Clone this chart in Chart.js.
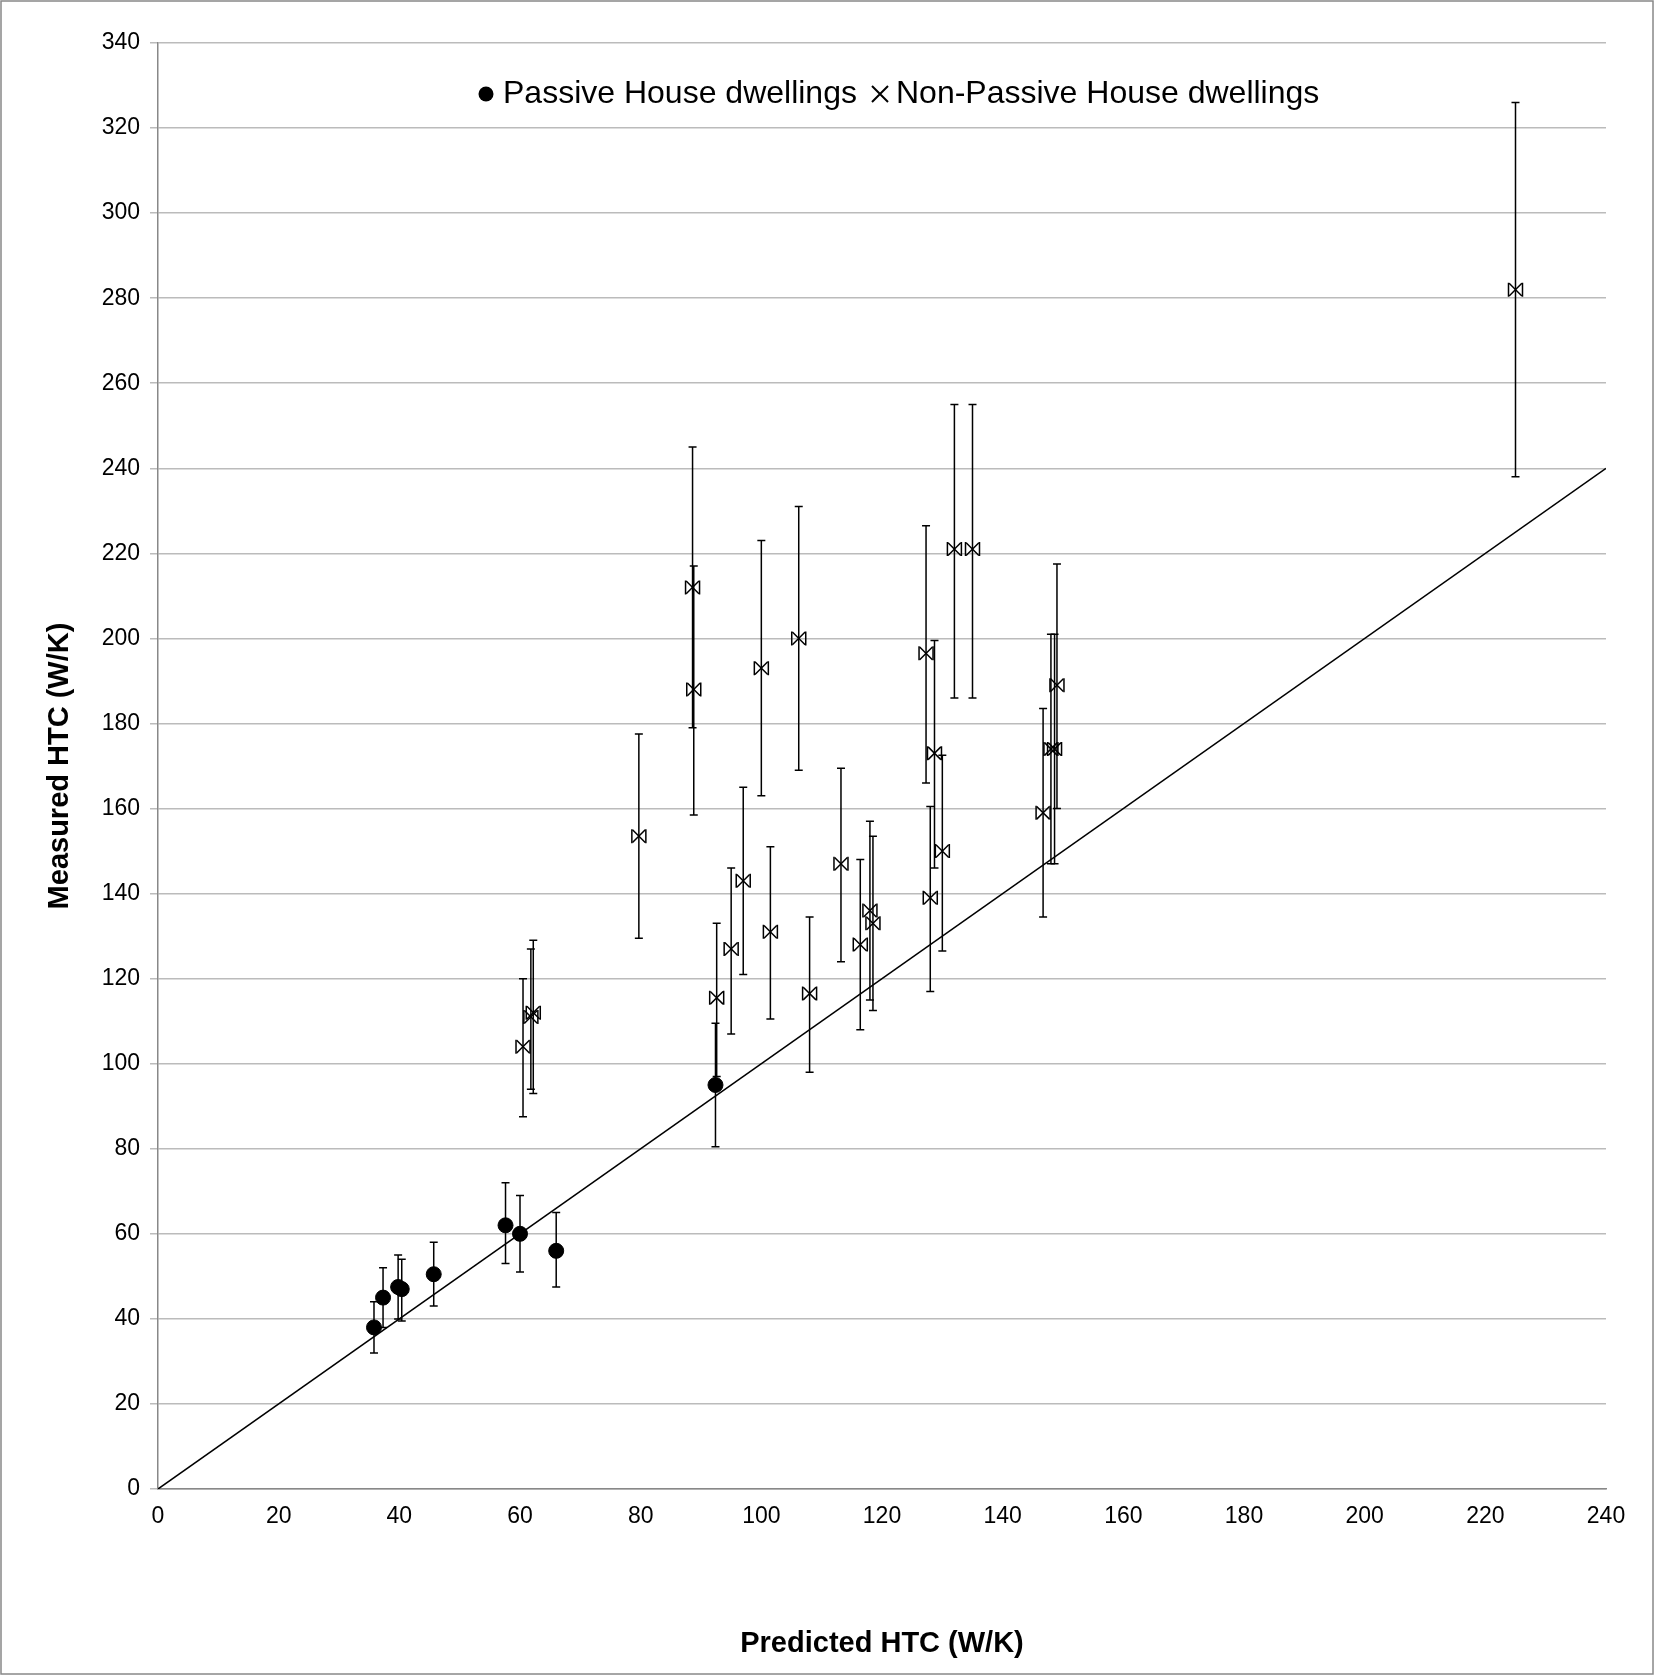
<!DOCTYPE html>
<html><head><script src="https://cdn.jsdelivr.net/npm/chart.js@4"></script>
<style>body{margin:0;background:#fff}#w{width:1654px;height:1675px;position:relative}</style></head>
<body><div id="w"><canvas id="c"></canvas></div>
<script>
const phX=[35.8,37.3,39.8,40.4,45.7,57.6,60,66,92.4];
const phY=[38,45,47.5,47,50.5,62,60,56,95];
const phLo=[32,38,40,39.5,43,53,51,47.5,80.5];
const phHi=[44,52,55,54,58,72,69,65,109.5];
const npX=[60.5,61.8,62.2,79.7,88.6,88.8,92.6,95,97,100,101.5,106.2,108,113.2,116.4,118,118.5,127.3,128,128.7,130,132,135,146.7,148,148.6,149,225];
const npY=[104,111,112,153.5,212,188,115.5,127,143,193,131,200,116.5,147,128,136,133,196.5,139,173,150,221,221,159,174,174,189,282];
const npLo=[87.5,94,93,129.5,179,158.5,97,107,121,163,110.5,169,98,124,108,115,112.5,166,117,146,126.5,186,186,134.5,147,147,160,238];
const npHi=[120,127,129,177.5,245,217,133,146,165,223,151,231,134.5,169.5,148,157,153.5,226.5,160.5,199.5,172.5,255,255,183.5,201,201,217.5,326];
const toPts=(xs,ys,lo,hi)=>xs.map((x,i)=>({x,y:ys[i],lo:lo[i],hi:hi[i]}));
const errPlugin={id:'err',
 beforeDatasetsDraw(ch){const c=ch.ctx,xs=ch.scales.x,ys=ch.scales.y;
  c.save();c.strokeStyle='#000';c.lineWidth=1.5;
  ch.data.datasets.forEach(ds=>{if(!ds.err)return;ds.data.forEach(p=>{
   const px=xs.getPixelForValue(p.x),a=ys.getPixelForValue(p.lo),b=ys.getPixelForValue(p.hi),py=ys.getPixelForValue(p.y);
   c.beginPath();c.moveTo(px,a);c.lineTo(px,b);c.moveTo(px-4,a);c.lineTo(px+4,a);c.moveTo(px-4,b);c.lineTo(px+4,b);
   if(ds.caps){c.moveTo(px-7,py-7);c.lineTo(px-7,py+7);c.moveTo(px+7,py-7);c.lineTo(px+7,py+7);}
   c.stroke();});});
  c.restore();},
 afterDraw(ch){const c=ch.ctx;c.save();
  c.strokeStyle='#888';c.lineWidth=1.5;c.strokeRect(1,1,1652,1673);
  c.font='32px Arial, "Liberation Sans"';c.textBaseline='middle';c.fillStyle='#000';
  const y=94;c.beginPath();c.arc(486,y,7.5,0,7);c.fill();
  c.fillText('Passive House dwellings',503,y);
  c.strokeStyle='#000';c.lineWidth=2;c.beginPath();c.moveTo(872,y-8);c.lineTo(888,y+8);c.moveTo(888,y-8);c.lineTo(872,y+8);c.stroke();
  c.fillText('Non-Passive House dwellings',896,y);
  c.restore();}};
new Chart(document.getElementById('c'),{
 type:'scatter',
 data:{datasets:[
  {data:[{x:0,y:0},{x:240,y:240}],showLine:true,borderColor:'#000',borderWidth:1.5,pointRadius:0,order:3},
  {data:toPts(phX,phY,phLo,phHi),err:true,pointStyle:'circle',pointRadius:7.5,backgroundColor:'#000',borderColor:'#000'},
  {data:toPts(npX,npY,npLo,npHi),err:true,caps:true,pointStyle:'crossRot',pointRadius:9,borderColor:'#000',borderWidth:1.5}
 ]},
 options:{responsive:true,maintainAspectRatio:false,animation:false,
  layout:{padding:{left:39,right:48,top:43,bottom:10}},
  plugins:{legend:{display:false},tooltip:{enabled:false}},
  scales:{
   x:{type:'linear',min:0,max:240,afterFit(s){s.height=176;},
    ticks:{stepSize:20,color:'#000',font:{size:23,family:'Arial, "Liberation Sans"'},padding:6},
    grid:{display:false,drawTicks:true,tickLength:8,color:'#888'},border:{color:'#888',width:1.5},
    title:{display:true,text:'Predicted HTC (W/K)',color:'#000',font:{size:29,weight:'bold',family:'Arial, "Liberation Sans"'},padding:{top:19}}},
   y:{type:'linear',min:0,max:340,afterFit(s){s.width=119;},
    ticks:{stepSize:20,color:'#000',font:{size:23,family:'Arial, "Liberation Sans"'},padding:10},
    grid:{color:'#bbb',lineWidth:1.5,tickLength:8},border:{color:'#888',width:1.5},
    title:{display:true,text:'Measured HTC (W/K)',color:'#000',font:{size:29,weight:'bold',family:'Arial, "Liberation Sans"'},padding:{bottom:10}}}
  }},
 plugins:[errPlugin]});
</script></body></html>
